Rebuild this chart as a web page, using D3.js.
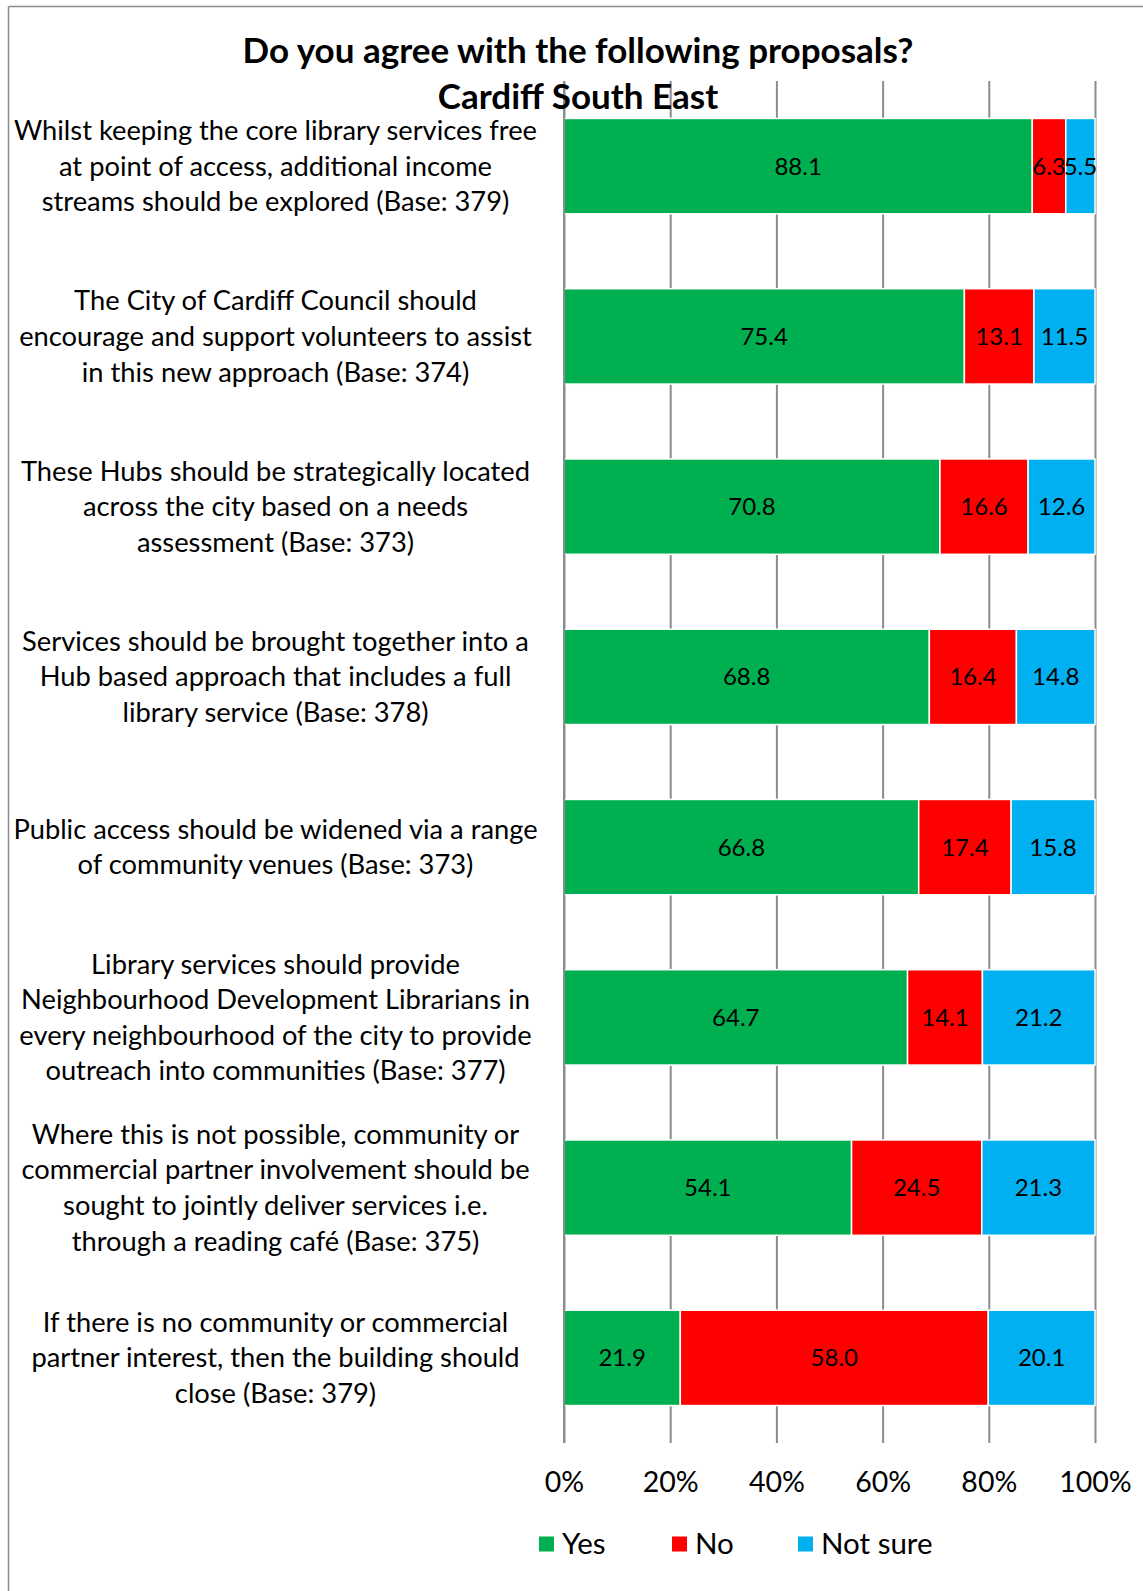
<!DOCTYPE html>
<html><head><meta charset="utf-8">
<script src="https://cdn.jsdelivr.net/npm/d3@7"></script>
<style>
html,body{margin:0;padding:0;background:#fff;}
svg{display:block;font-family:Lato, "Open Sans", sans-serif;}
</style></head>
<body><svg id="chart" width="1143" height="1591"></svg>
<script>
const titleLines = ["Do you agree with the following proposals?", "Cardiff South East"];
const categories = [
  ["Whilst keeping the core library services free","at point of access, additional income","streams should be explored (Base: 379)"],
  ["The City of Cardiff Council should","encourage and support volunteers to assist","in this new approach (Base: 374)"],
  ["These Hubs should be strategically located","across the city based on a needs","assessment (Base: 373)"],
  ["Services should be brought together into a","Hub based approach that includes a full","library service (Base: 378)"],
  ["Public access should be widened via a range","of community venues (Base: 373)"],
  ["Library services should provide","Neighbourhood Development Librarians in","every neighbourhood of the city to provide","outreach into communities (Base: 377)"],
  ["Where this is not possible, community or","commercial partner involvement should be","sought to jointly deliver services i.e.","through a reading café (Base: 375)"],
  ["If there is no community or commercial","partner interest, then the building should","close (Base: 379)"]
];
const seriesNames = ["Yes", "No", "Not sure"];
const yesValues = [88.1, 75.4, 70.8, 68.8, 66.8, 64.7, 54.1, 21.9];
const noValues = [6.3, 13.1, 16.6, 16.4, 17.4, 14.1, 24.5, 58.0];
const notSureValues = [5.5, 11.5, 12.6, 14.8, 15.8, 21.2, 21.3, 20.1];
const seriesColors = ["#00B050", "#FF0000", "#00B0F0"];
const tickValues = [0, 0.2, 0.4, 0.6, 0.8, 1.0];

const svg = d3.select("#chart");
const W = 1143, H = 1591;
const plot = {left: 564, right: 1095, top: 81, bottom: 1443};

// frame
svg.append("line").attr("x1", 8.5).attr("x2", W).attr("y1", 6.5).attr("y2", 6.5).attr("stroke", "#8c8c8c").attr("stroke-width", 1.5);
svg.append("line").attr("x1", 8.5).attr("x2", 8.5).attr("y1", 6.5).attr("y2", H).attr("stroke", "#8c8c8c").attr("stroke-width", 1.5);

const rows = categories.map((c, i) => ({idx: i, lines: c, vals: [yesValues[i], noValues[i], notSureValues[i]]}));

const x = d3.scaleLinear().domain([0, 1]).range([plot.left, plot.right]);
const y = d3.scaleBand().domain(rows.map(r => r.idx)).range([plot.top, plot.bottom]).paddingInner(0.44).paddingOuter(0.22);

// gridlines
const xAxis = d3.axisBottom(x).tickValues(tickValues).tickFormat(d3.format(".0%")).tickSize(plot.bottom - plot.top).tickPadding(29);
const gx = svg.append("g").attr("transform", `translate(0,${plot.top})`).call(xAxis);
gx.select(".domain").remove();
gx.selectAll(".tick line").attr("stroke", "#8c8c8c").attr("stroke-width", 2);
gx.selectAll(".tick text").attr("font-size", 28.5).attr("fill", "#000").attr("font-family", "Lato").attr("dy", "0.71em");

// stacked bars (100% stacked)
const stackData = rows.map(r => {
  const total = d3.sum(r.vals);
  const o = {idx: r.idx};
  seriesNames.forEach((s, k) => { o[s] = r.vals[k] / total; o[s + "_raw"] = r.vals[k]; });
  return o;
});
const stack = d3.stack().keys(seriesNames);
const layers = stack(stackData);

const gBars = svg.append("g");
layers.forEach((layer, k) => {
  const g = gBars.append("g").attr("fill", seriesColors[k]);
  g.selectAll("rect").data(layer).join("rect")
    .attr("x", d => x(d[0]))
    .attr("y", d => y(d.data.idx))
    .attr("width", d => x(d[1]) - x(d[0]))
    .attr("height", y.bandwidth())
    .attr("stroke", "#fff").attr("stroke-width", 1.5);
});
layers.forEach((layer, k) => {
  gBars.append("g").selectAll("text").data(layer).join("text")
    .attr("x", d => (x(d[0]) + x(d[1])) / 2)
    .attr("y", d => y(d.data.idx) + y.bandwidth() / 2)
    .attr("text-anchor", "middle").attr("dy", "0.35em")
    .attr("font-size", 24).attr("fill", "#000")
    .text(d => d.data[seriesNames[k] + "_raw"].toFixed(1));
});

// left axis line (0%)
svg.append("line").attr("x1", x(0)).attr("x2", x(0)).attr("y1", plot.top).attr("y2", plot.bottom).attr("stroke", "#8c8c8c").attr("stroke-width", 2);

// category labels
const lineH = 35.6;
const labelCx = 275.5;
rows.forEach(r => {
  const cy = y(r.idx) + y.bandwidth() / 2;
  const n = r.lines.length;
  const t = svg.append("text").attr("text-anchor", "middle").attr("font-size", 27.3).attr("fill", "#000");
  r.lines.forEach((ln, j) => {
    t.append("tspan").attr("x", labelCx).attr("y", cy + (j - (n - 1) / 2) * lineH).attr("dy", "0.35em").text(ln);
  });
});

// title
titleLines.forEach((tl, j) => {
  svg.append("text").attr("x", 578).attr("y", 51 + j * 46).attr("dy", "0.35em")
    .attr("text-anchor", "middle").attr("font-size", 35).attr("font-weight", "bold").attr("fill", "#000").text(tl);
});

// legend
const legendX = [539, 672, 798];
const legendY = 1544;
seriesNames.forEach((s, k) => {
  const g = svg.append("g").attr("transform", `translate(${legendX[k]},${legendY})`);
  g.append("rect").attr("x", 0).attr("y", -7.5).attr("width", 15).attr("height", 15).attr("fill", seriesColors[k]);
  g.append("text").attr("x", 23).attr("y", 0).attr("dy", "0.35em").attr("font-size", 29.5).attr("fill", "#000").text(s);
});
</script></body></html>
